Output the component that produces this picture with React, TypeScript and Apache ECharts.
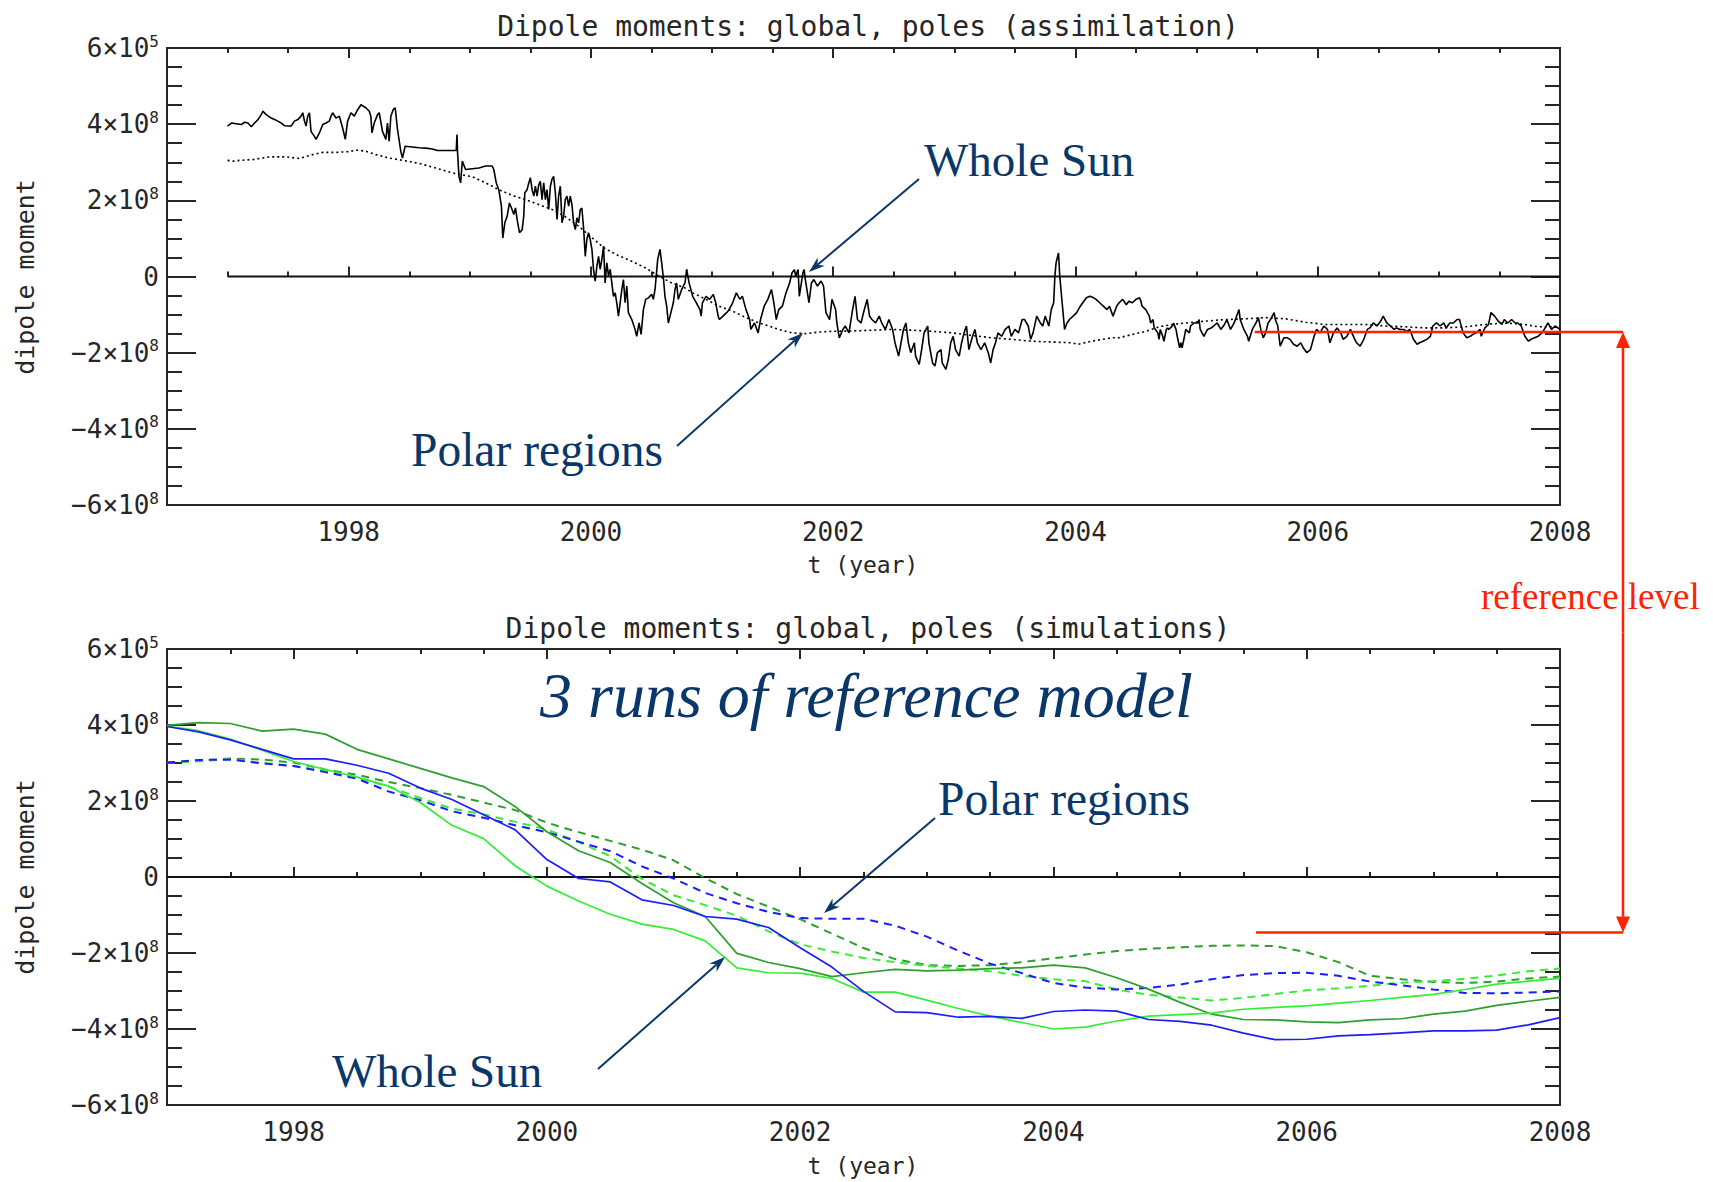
import React, { useEffect, useRef } from 'react';
import * as echarts from 'echarts';

const W = 1713;
const H = 1182;

// ---------- data (dipole moment in units of 1e8) ----------
const assimWholeSun: [number, number][] = [
  [1997.0, 3.95], [1997.031, 4.03], [1997.072, 4.01], [1997.113, 3.99], [1997.141, 4.05], [1997.168, 4.03], [1997.196, 3.93], [1997.223, 4.03], [1997.251, 4.12], [1997.278, 4.25], [1997.292, 4.34], [1997.319, 4.25], [1997.36, 4.16], [1997.388, 4.12], [1997.415, 4.08], [1997.443, 4.03], [1997.47, 3.96], [1997.497, 3.95], [1997.525, 3.95], [1997.552, 4.08], [1997.58, 4.12], [1997.607, 4.21], [1997.621, 4.3], [1997.635, 4.08], [1997.648, 3.95], [1997.662, 4.21], [1997.676, 4.3], [1997.689, 3.81], [1997.717, 3.68], [1997.731, 3.6], [1997.758, 3.77], [1997.786, 3.99], [1997.813, 4.03], [1997.84, 4.08], [1997.854, 4.21], [1997.868, 4.3], [1997.895, 4.16], [1997.923, 4.21], [1997.95, 3.9], [1997.972, 3.6], [1997.991, 4.08], [1998.019, 4.3], [1998.046, 4.21], [1998.074, 4.38], [1998.101, 4.51], [1998.142, 4.43], [1998.17, 4.34], [1998.183, 4.21], [1998.192, 3.77], [1998.211, 4.03], [1998.238, 4.25], [1998.252, 4.3], [1998.279, 3.81], [1998.307, 3.6], [1998.32, 4.03], [1998.334, 3.55], [1998.348, 4.21], [1998.367, 4.38], [1998.384, 4.43], [1998.403, 3.86], [1998.43, 3.29], [1998.444, 3.11], [1998.466, 3.42], [1998.526, 3.4], [1998.581, 3.38], [1998.636, 3.37], [1998.691, 3.35], [1998.732, 3.31], [1998.801, 3.31], [1998.888, 3.31], [1998.894, 3.73], [1998.899, 3.25], [1998.91, 2.63], [1998.924, 2.46], [1998.938, 3.03], [1998.965, 2.81], [1999.02, 2.83], [1999.075, 2.85], [1999.13, 2.9], [1999.185, 2.9], [1999.198, 2.81], [1999.218, 2.46], [1999.239, 2.28], [1999.261, 1.85], [1999.272, 1.01], [1999.289, 1.41], [1999.308, 1.58], [1999.327, 1.93], [1999.344, 1.8], [1999.363, 1.63], [1999.377, 1.8], [1999.393, 1.45], [1999.41, 1.15], [1999.432, 1.23], [1999.445, 1.58], [1999.454, 2.2], [1999.473, 2.28], [1999.487, 2.46], [1999.5, 2.59], [1999.514, 2.28], [1999.528, 2.11], [1999.541, 2.37], [1999.555, 2.11], [1999.569, 2.41], [1999.582, 2.5], [1999.596, 2.02], [1999.61, 2.46], [1999.624, 2.02], [1999.637, 2.28], [1999.651, 1.76], [1999.665, 2.37], [1999.678, 2.55], [1999.692, 2.63], [1999.706, 2.2], [1999.72, 1.5], [1999.733, 2.11], [1999.747, 2.37], [1999.761, 1.41], [1999.774, 1.58], [1999.788, 2.02], [1999.802, 2.11], [1999.816, 1.85], [1999.829, 2.11], [1999.843, 1.89], [1999.857, 1.41], [1999.871, 1.23], [1999.884, 1.54], [1999.898, 1.41], [1999.912, 1.76], [1999.925, 1.8], [1999.939, 1.28], [1999.953, 0.53], [1999.966, 0.97], [1999.98, 1.15], [1999.994, 0.97], [2000.008, 0.71], [2000.021, 0.19], [2000.035, -0.12], [2000.049, 0.27], [2000.063, 0.53], [2000.076, 0.19], [2000.09, 0.45], [2000.104, 0.8], [2000.117, -0.17], [2000.131, 0.36], [2000.145, 0.01], [2000.159, 0.19], [2000.172, -0.17], [2000.186, -0.52], [2000.2, -0.43], [2000.213, -0.69], [2000.227, -1.04], [2000.241, -0.69], [2000.255, -0.34], [2000.268, -0.08], [2000.282, -0.69], [2000.296, -0.25], [2000.309, -0.95], [2000.337, -1.13], [2000.364, -1.39], [2000.378, -1.57], [2000.397, -1.22], [2000.414, -1.52], [2000.433, -0.87], [2000.452, -0.6], [2000.474, -0.56], [2000.502, -0.47], [2000.515, -0.6], [2000.529, -0.34], [2000.551, 0.45], [2000.57, 0.71], [2000.584, 0.36], [2000.598, -0.04], [2000.611, -0.52], [2000.625, -0.78], [2000.639, -1.22], [2000.653, -1.04], [2000.666, -0.87], [2000.68, -0.69], [2000.694, -0.34], [2000.707, -0.17], [2000.721, -0.6], [2000.749, -0.34], [2000.776, -0.17], [2000.79, 0.19],
  [2000.81, -0.17], [2000.84, -0.52], [2000.87, -0.69], [2000.9, -0.87], [2000.91, -1.04], [2000.92, -0.69], [2000.95, -0.52], [2000.98, -0.6], [2001.01, -0.47], [2001.03, -0.69], [2001.05, -1.04], [2001.06, -1.13], [2001.09, -1.04], [2001.12, -0.95], [2001.14, -0.87], [2001.17, -0.69], [2001.2, -0.43], [2001.23, -0.6], [2001.25, -0.52], [2001.28, -0.87], [2001.31, -1.13], [2001.32, -1.39], [2001.35, -1.22], [2001.38, -1.48], [2001.4, -1.13], [2001.43, -0.78], [2001.46, -0.6], [2001.49, -0.34], [2001.51, -0.69], [2001.53, -1.13], [2001.55, -0.87], [2001.58, -0.78], [2001.61, -0.43], [2001.64, -0.17], [2001.66, 0.1], [2001.68, 0.18], [2001.69, 0.01], [2001.71, 0.18], [2001.72, -0.52], [2001.75, 0.1], [2001.76, 0.18], [2001.77, -0.08], [2001.8, -0.69], [2001.82, -0.17], [2001.84, -0.08], [2001.87, -0.25], [2001.9, -0.12], [2001.92, -0.25], [2001.94, -0.95], [2001.97, -1.13], [2001.99, -0.6], [2002.02, -0.87], [2002.03, -1.22], [2002.05, -1.61], [2002.08, -1.39], [2002.1, -1.3], [2002.13, -1.48], [2002.16, -0.87], [2002.18, -0.52], [2002.2, -1.13], [2002.23, -1.22], [2002.25, -0.95], [2002.28, -0.6], [2002.3, -1.04], [2002.32, -1.13], [2002.35, -1.22], [2002.38, -1.04], [2002.4, -1.22], [2002.43, -1.39], [2002.46, -1.13], [2002.49, -1.39], [2002.51, -1.74], [2002.54, -2.09], [2002.56, -1.74], [2002.58, -1.39], [2002.6, -1.22], [2002.62, -1.74], [2002.64, -2.0], [2002.67, -1.74], [2002.68, -2.09], [2002.71, -2.31], [2002.73, -1.92], [2002.75, -1.48], [2002.78, -1.3], [2002.79, -1.74], [2002.82, -2.27], [2002.84, -2.35], [2002.86, -2.0], [2002.89, -1.92], [2002.9, -2.27], [2002.93, -2.44], [2002.95, -2.18], [2002.97, -1.74], [2002.99, -1.57], [2003.01, -1.92], [2003.04, -2.09], [2003.06, -1.74], [2003.08, -1.48], [2003.1, -1.3], [2003.12, -1.92], [2003.15, -1.57], [2003.17, -1.39], [2003.19, -1.74], [2003.22, -1.92], [2003.25, -1.74], [2003.28, -2.0], [2003.3, -2.27], [2003.32, -1.92], [2003.34, -1.74], [2003.36, -1.48], [2003.39, -1.57], [2003.42, -1.39], [2003.45, -1.3], [2003.47, -1.57], [2003.5, -1.39], [2003.53, -1.48], [2003.56, -1.13], [2003.58, -1.13], [2003.61, -1.3], [2003.63, -1.65], [2003.65, -1.48], [2003.68, -1.04], [2003.71, -1.22], [2003.73, -1.3], [2003.75, -1.04], [2003.78, -1.3], [2003.8, -0.87], [2003.82, -0.69], [2003.83, 0.01], [2003.84, 0.36], [2003.86, 0.62], [2003.87, 0.01], [2003.89, -0.69], [2003.91, -1.39], [2003.93, -1.22], [2003.95, -1.13], [2003.98, -1.04], [2004.01, -0.95], [2004.04, -0.78], [2004.06, -0.69], [2004.09, -0.56], [2004.12, -0.52], [2004.15, -0.56], [2004.17, -0.6], [2004.2, -0.69], [2004.23, -0.78], [2004.26, -0.87], [2004.28, -0.78], [2004.31, -1.04], [2004.34, -0.78],
  [2004.36, -0.69], [2004.39, -0.6], [2004.42, -0.74], [2004.44, -0.65], [2004.47, -0.69], [2004.5, -0.6], [2004.53, -0.56], [2004.54, -0.65], [2004.55, -0.78], [2004.58, -0.87], [2004.61, -1.04], [2004.62, -1.22], [2004.64, -1.13], [2004.65, -1.35], [2004.66, -1.39], [2004.68, -1.48], [2004.69, -1.65], [2004.7, -1.39], [2004.72, -1.57], [2004.73, -1.7], [2004.75, -1.39], [2004.76, -1.35], [2004.77, -1.39], [2004.8, -1.3], [2004.81, -1.22], [2004.83, -1.39], [2004.84, -1.57], [2004.86, -1.87], [2004.87, -1.74], [2004.88, -1.87], [2004.9, -1.57], [2004.91, -1.39], [2004.94, -1.48], [2004.95, -1.3], [2004.98, -1.22], [2005.01, -1.22], [2005.02, -1.13], [2005.03, -1.39], [2005.06, -1.57], [2005.09, -1.39], [2005.12, -1.35], [2005.14, -1.3], [2005.17, -1.22], [2005.2, -1.39], [2005.23, -1.26], [2005.25, -1.13], [2005.28, -1.39], [2005.31, -1.22], [2005.34, -0.95], [2005.35, -0.87], [2005.36, -1.13], [2005.39, -1.39], [2005.42, -1.57], [2005.43, -1.7], [2005.46, -1.39], [2005.49, -1.22], [2005.51, -1.08], [2005.53, -1.39], [2005.55, -1.61], [2005.57, -1.48], [2005.59, -1.22], [2005.61, -1.13], [2005.64, -0.95], [2005.65, -1.13], [2005.67, -1.3], [2005.69, -1.83], [2005.72, -1.61], [2005.75, -1.61], [2005.77, -1.65], [2005.8, -1.78], [2005.83, -1.83], [2005.86, -1.74], [2005.88, -1.87], [2005.91, -2.0], [2005.94, -1.92], [2005.97, -1.57], [2005.99, -1.39], [2006.02, -1.48], [2006.05, -1.3], [2006.08, -1.39], [2006.1, -1.74], [2006.13, -1.48], [2006.16, -1.35], [2006.19, -1.48], [2006.21, -1.65], [2006.24, -1.57], [2006.27, -1.39], [2006.3, -1.61], [2006.32, -1.74], [2006.35, -1.83], [2006.38, -1.65], [2006.41, -1.39], [2006.43, -1.35], [2006.46, -1.22], [2006.49, -1.3], [2006.52, -1.17], [2006.54, -1.04], [2006.57, -1.22], [2006.6, -1.3], [2006.63, -1.39], [2006.65, -1.35], [2006.68, -1.39], [2006.71, -1.39], [2006.73, -1.44], [2006.76, -1.39], [2006.79, -1.65], [2006.82, -1.78], [2006.84, -1.74], [2006.87, -1.7], [2006.9, -1.65], [2006.93, -1.57], [2006.95, -1.3], [2006.98, -1.22], [2007.01, -1.3], [2007.04, -1.22], [2007.06, -1.35], [2007.09, -1.22], [2007.12, -1.22], [2007.15, -1.13], [2007.17, -1.13], [2007.2, -1.48], [2007.23, -1.61], [2007.26, -1.57], [2007.28, -1.52], [2007.31, -1.48], [2007.34, -1.39], [2007.35, -1.57], [2007.38, -1.35], [2007.41, -1.26], [2007.43, -0.95], [2007.46, -1.04], [2007.49, -1.17], [2007.52, -1.26], [2007.54, -1.13], [2007.57, -1.22], [2007.6, -1.13], [2007.63, -1.22], [2007.65, -1.22], [2007.68, -1.3], [2007.71, -1.57], [2007.74, -1.7], [2007.76, -1.65], [2007.79, -1.61], [2007.82, -1.57], [2007.85, -1.48], [2007.87, -1.39], [2007.9, -1.22], [2007.93, -1.39], [2007.96, -1.3], [2008.0, -1.39],
];

const assimPolar: [number, number][] = [
  [1997.0, 3.05], [1997.045, 3.03], [1997.1, 3.05], [1997.209, 3.07], [1997.347, 3.14], [1997.484, 3.14], [1997.593, 3.1], [1997.703, 3.2], [1997.786, 3.26], [1997.895, 3.26], [1998.005, 3.28], [1998.06, 3.32], [1998.142, 3.29], [1998.224, 3.2], [1998.334, 3.11], [1998.444, 3.05], [1998.581, 2.97], [1998.718, 2.85], [1998.855, 2.72], [1999.02, 2.62], [1999.13, 2.46], [1999.239, 2.28], [1999.349, 2.13], [1999.459, 2.02], [1999.569, 1.89], [1999.678, 1.76], [1999.788, 1.57], [1999.898, 1.32], [2000.008, 1.02], [2000.117, 0.73], [2000.227, 0.55], [2000.337, 0.4], [2000.447, 0.23], [2000.556, 0.02], [2000.666, -0.17], [2000.776, -0.3],
  [2000.84, -0.43], [2000.95, -0.6], [2001.06, -0.78], [2001.17, -0.91], [2001.28, -1.08], [2001.39, -1.22], [2001.47, -1.3], [2001.55, -1.39], [2001.66, -1.48], [2001.77, -1.5], [2001.88, -1.46], [2001.99, -1.44], [2002.16, -1.43], [2002.32, -1.41], [2002.49, -1.39], [2002.65, -1.41], [2002.82, -1.44], [2002.98, -1.48], [2003.15, -1.55], [2003.31, -1.61], [2003.47, -1.65], [2003.64, -1.7], [2003.8, -1.72], [2003.97, -1.74], [2004.02, -1.78], [2004.13, -1.7], [2004.3, -1.61],
  [2004.36, -1.61], [2004.47, -1.52], [2004.58, -1.44], [2004.69, -1.32], [2004.8, -1.26], [2004.91, -1.22], [2005.08, -1.17], [2005.24, -1.13], [2005.4, -1.11], [2005.57, -1.08], [2005.73, -1.11], [2005.9, -1.2], [2006.06, -1.26], [2006.23, -1.26], [2006.39, -1.26], [2006.56, -1.3], [2006.72, -1.32], [2006.89, -1.35], [2007.05, -1.35], [2007.22, -1.32], [2007.38, -1.26], [2007.54, -1.22], [2007.71, -1.26], [2007.82, -1.32], [2008.0, -1.32],
];

const zeroLine: [number, number][] = [[1997, 0], [2008, 0]];

const simYears = [
  1997.0, 1997.25, 1997.5, 1997.75, 1998.0, 1998.25, 1998.5, 1998.75, 1999.0, 1999.25, 1999.5, 1999.75, 2000.0, 2000.25, 2000.5,
  2000.75, 2001.0, 2001.25, 2001.5, 2001.75, 2002.0, 2002.25, 2002.5, 2002.75, 2003.0, 2003.25, 2003.5, 2003.75, 2004.0, 2004.25,
  2004.5, 2004.75, 2005.0, 2005.25, 2005.5, 2005.75, 2006.0, 2006.25, 2006.5, 2006.75, 2007.0, 2007.25, 2007.5, 2007.75, 2008.0,
];
const run1WholeBlue = [
  3.96, 3.82, 3.61, 3.36, 3.11, 3.11, 2.94, 2.73, 2.34, 2.04, 1.64, 1.24, 0.46, -0.04, -0.13,
  -0.6, -0.75, -1.04, -1.11, -1.33, -1.86, -2.37, -3.01, -3.55, -3.57, -3.69, -3.67, -3.72, -3.54, -3.5,
  -3.53, -3.75, -3.8, -3.9, -4.11, -4.28, -4.27, -4.18, -4.15, -4.1, -4.05, -4.05, -4.03, -3.89, -3.7,
];
const run2WholeDarkGreen = [
  3.99, 4.06, 4.04, 3.84, 3.89, 3.76, 3.36, 3.11, 2.86, 2.61, 2.38, 1.85, 1.19, 0.69, 0.38,
  -0.17, -0.68, -1.04, -2.01, -2.25, -2.41, -2.62, -2.52, -2.43, -2.47, -2.45, -2.41, -2.39, -2.32, -2.39,
  -2.65, -2.95, -3.3, -3.61, -3.75, -3.76, -3.81, -3.83, -3.76, -3.73, -3.61, -3.53, -3.38, -3.27, -3.17,
];
const run3WholeLightGreen = [
  3.97, 3.85, 3.63, 3.34, 3.04, 2.83, 2.63, 2.39, 1.96, 1.36, 1.01, 0.29, -0.24, -0.63, -0.98,
  -1.24, -1.38, -1.68, -2.39, -2.52, -2.53, -2.67, -3.03, -3.03, -3.24, -3.46, -3.66, -3.83, -4.0, -3.95,
  -3.79, -3.66, -3.62, -3.58, -3.48, -3.43, -3.39, -3.32, -3.25, -3.17, -3.09, -2.96, -2.82, -2.74, -2.67,
];
const run1PolarBlue = [
  3.01, 3.08, 3.09, 2.99, 2.92, 2.76, 2.59, 2.25, 2.02, 1.73, 1.56, 1.36, 1.18, 0.93, 0.68,
  0.28, -0.04, -0.42, -0.69, -0.92, -1.08, -1.1, -1.1, -1.28, -1.57, -1.94, -2.28, -2.53, -2.79, -2.91,
  -2.96, -2.92, -2.83, -2.69, -2.58, -2.53, -2.52, -2.6, -2.75, -2.85, -2.96, -3.05, -3.06, -3.04, -3.01,
];
const run2PolarDarkGreen = [
  3.01, 3.06, 3.12, 3.09, 3.01, 2.83, 2.69, 2.5, 2.34, 2.16, 1.96, 1.76, 1.43, 1.18, 0.95,
  0.72, 0.44, -0.03, -0.45, -0.78, -1.11, -1.49, -1.87, -2.16, -2.32, -2.34, -2.32, -2.24, -2.14, -2.04,
  -1.95, -1.89, -1.85, -1.81, -1.8, -1.82, -1.98, -2.24, -2.6, -2.69, -2.76, -2.79, -2.75, -2.67, -2.62,
];
const run3PolarLightGreen = [
  3.01, 3.04, 3.11, 3.0, 2.92, 2.79, 2.62, 2.38, 2.08, 1.8, 1.65, 1.45, 1.25, 0.92, 0.55,
  -0.05, -0.48, -0.74, -1.02, -1.43, -1.77, -1.96, -2.13, -2.24, -2.34, -2.41, -2.48, -2.6, -2.69, -2.74,
  -2.96, -3.1, -3.17, -3.25, -3.18, -3.08, -2.98, -2.93, -2.86, -2.78, -2.74, -2.68, -2.59, -2.48, -2.41,
];

const majorYears = [1998, 2000, 2002, 2004, 2006, 2008];
const topMinorYears = [1997, 1997.5, 1998.5, 1999, 1999.5, 2000.5, 2001, 2001.5, 2002.5, 2003, 2003.5, 2004.5, 2005, 2005.5, 2006.5, 2007, 2007.5];
const bottomMinorYears = [1997.5, 1998.5, 1999, 1999.5, 2000.5, 2001, 2001.5, 2002.5, 2003, 2003.5, 2004.5, 2005, 2005.5, 2006.5, 2007, 2007.5];
const refLevel = -1.46;
const refStartTop = 2005.48;
const refStartBottom = 2005.6;

// ---------- styling ----------
const MONO = '"DejaVu Sans Mono", monospace';
const SERIF = '"Liberation Serif", "Times New Roman", serif';
const INK = '#262626';
const NAVY = '#0a3769';
const RED = '#ff2200';
const BLUE = '#1c1cff';
const DGREEN = '#2e9e2e';
const LGREEN = '#33ee33';

function yLabel(v: number): string {
  if (v === 0) return '{b|0}';
  const sign = v < 0 ? '−' : '';
  const exp = v === 6 ? '5' : '8';
  return `{b|${sign}${Math.abs(v)}×10}{s|${exp}}`;
}

function xAxesFor(gridIndex: number, min: number, minors: number[]) {
  const base: any = {
    type: 'value', gridIndex, min, max: 2008,
    axisLine: { show: false }, splitLine: { show: false },
  };
  const tick = (vals: number[], len: number) => ({
    show: true, inside: true, length: len, customValues: vals,
    lineStyle: { color: INK, width: 2 },
  });
  return [
    {
      ...base, position: 'bottom', axisTick: tick(majorYears, 10),
      axisLabel: {
        show: true, customValues: majorYears, margin: 14, formatter: (v: number) => String(v),
        fontFamily: MONO, fontSize: 26, color: INK, showMinLabel: true, showMaxLabel: true,
      },
    },
    { ...base, position: 'bottom', axisTick: tick(minors, 5), axisLabel: { show: false } },
    { ...base, position: 'top', axisTick: tick(majorYears, 10), axisLabel: { show: false } },
    { ...base, position: 'top', axisTick: tick(minors, 5), axisLabel: { show: false } },
  ];
}

function yAxesFor(gridIndex: number) {
  const common: any = {
    type: 'value', gridIndex, min: -6, max: 6, interval: 2,
    axisLine: { show: false }, splitLine: { show: false },
    axisTick: { show: true, inside: true, length: 29, lineStyle: { color: INK, width: 2 } },
    minorTick: { show: true, splitNumber: 4, length: 15, lineStyle: { color: INK, width: 2 } },
  };
  return [
    {
      ...common, position: 'left',
      axisLabel: {
        show: true, margin: 8, formatter: yLabel,
        rich: {
          b: { fontFamily: MONO, fontSize: 26, color: INK, lineHeight: 30 },
          s: { fontFamily: MONO, fontSize: 16, color: INK, verticalAlign: 'top', lineHeight: 30 },
        },
      },
    },
    { ...common, position: 'right', axisLabel: { show: false } },
  ];
}

function zip(xs: number[], ys: number[]): [number, number][] {
  return xs.map((x, i) => [x, ys[i]]);
}

function lineSeries(name: string, data: [number, number][], xi: number, yi: number, color: string, type: any, width: number, z = 3) {
  return {
    type: 'line', name, data, xAxisIndex: xi, yAxisIndex: yi, showSymbol: false, symbol: 'none',
    lineStyle: { color, width, type }, z, silent: true,
  };
}

function buildOption(): any {
  const titleStyle = { fontFamily: MONO, fontSize: 28, fontWeight: 'normal', color: INK };
  return {
    animation: false,
    backgroundColor: '#ffffff',
    title: [
      { text: 'Dipole moments: global, poles (assimilation)', left: 863, top: 7, textAlign: 'center', textStyle: titleStyle },
      { text: 'Dipole moments: global, poles (simulations)', left: 863, top: 609, textAlign: 'center', textStyle: titleStyle },
    ],
    grid: [
      { left: 167, top: 48, width: 1393, height: 457, show: true, borderColor: INK, borderWidth: 2, backgroundColor: 'transparent', containLabel: false, outerBoundsMode: 'none' },
      { left: 167, top: 649, width: 1393, height: 456, show: true, borderColor: INK, borderWidth: 2, backgroundColor: 'transparent', containLabel: false, outerBoundsMode: 'none' },
    ],
    xAxis: [...xAxesFor(0, 1996.5, topMinorYears), ...xAxesFor(1, 1997, bottomMinorYears)],
    yAxis: [...yAxesFor(0), ...yAxesFor(1)],
    series: [
      lineSeries('zero (assimilation)', zeroLine, 0, 0, '#111', 'solid', 2, 2),
      lineSeries('Polar regions (assimilation)', assimPolar, 0, 0, '#000', [2, 3], 1.6),
      lineSeries('Whole Sun (assimilation)', assimWholeSun, 0, 0, '#000', 'solid', 1.6),
      lineSeries('zero (simulations)', zeroLine, 4, 2, '#111', 'solid', 2, 2),
      lineSeries('Polar run 2', zip(simYears, run2PolarDarkGreen), 4, 2, DGREEN, [8, 6], 2),
      lineSeries('Polar run 3', zip(simYears, run3PolarLightGreen), 4, 2, LGREEN, [8, 6], 2),
      lineSeries('Polar run 1', zip(simYears, run1PolarBlue), 4, 2, BLUE, [8, 6], 2),
      lineSeries('Whole Sun run 2', zip(simYears, run2WholeDarkGreen), 4, 2, DGREEN, 'solid', 1.7),
      lineSeries('Whole Sun run 3', zip(simYears, run3WholeLightGreen), 4, 2, LGREEN, 'solid', 1.7),
      lineSeries('Whole Sun run 1', zip(simYears, run1WholeBlue), 4, 2, BLUE, 'solid', 1.7),
    ],
  };
}

function arrowEls(x1: number, y1: number, x2: number, y2: number, color: string, lw: number, hl: number, hw: number, notch: number) {
  const dx = x2 - x1, dy = y2 - y1;
  const L = Math.hypot(dx, dy);
  const ux = dx / L, uy = dy / L;
  const bx = x2 - ux * hl, by = y2 - uy * hl;
  const nx = -uy * hw / 2, ny = ux * hw / 2;
  const ix = x2 - ux * hl * (1 - notch), iy = y2 - uy * hl * (1 - notch);
  return [
    { type: 'line', z: 100, silent: true, shape: { x1, y1, x2: ix, y2: iy }, style: { stroke: color, lineWidth: lw } },
    { type: 'polygon', z: 100, silent: true, shape: { points: [[x2, y2], [bx + nx, by + ny], [ix, iy], [bx - nx, by - ny]] }, style: { fill: color } },
  ];
}

function textEl(text: string, x: number, y: number, fontSize: number, fontFamily: string, fill: string, extra: any = {}) {
  return {
    type: 'text', x, y, z: 100, silent: true, rotation: extra.rotation || 0,
    style: {
      text, fill, fontSize, fontFamily, fontStyle: extra.fontStyle || 'normal',
      align: extra.align || 'left', verticalAlign: 'middle',
    },
  };
}

function buildGraphics(chart: any): any[] {
  const pTop = chart.convertToPixel({ xAxisIndex: 0, yAxisIndex: 0 }, [refStartTop, refLevel]);
  const pBot = chart.convertToPixel({ xAxisIndex: 4, yAxisIndex: 2 }, [refStartBottom, refLevel]);
  const ax = 1623;
  const els: any[] = [];
  // axis titles
  els.push(textEl('dipole moment', 25, 277, 25, MONO, INK, { rotation: Math.PI / 2, align: 'center' }));
  els.push(textEl('dipole moment', 25, 877, 25, MONO, INK, { rotation: Math.PI / 2, align: 'center' }));
  els.push(textEl('t (year)', 863, 565, 23, MONO, INK, { align: 'center' }));
  els.push(textEl('t (year)', 863, 1166, 23, MONO, INK, { align: 'center' }));
  // annotations
  els.push(textEl('Whole Sun', 924, 160, 47, SERIF, NAVY));
  els.push(textEl('Polar regions', 411, 450, 47.5, SERIF, NAVY));
  els.push(textEl('3 runs of reference model', 540, 695, 64, SERIF, NAVY, { fontStyle: 'italic' }));
  els.push(textEl('Polar regions', 938, 799, 47.5, SERIF, NAVY));
  els.push(textEl('Whole Sun', 332, 1071, 47, SERIF, NAVY));
  els.push(...arrowEls(919, 179, 809, 272, NAVY, 2, 16, 11, 0.3));
  els.push(...arrowEls(677, 446, 803, 333, NAVY, 2, 16, 11, 0.3));
  els.push(...arrowEls(935, 818, 824, 913, NAVY, 2, 16, 11, 0.3));
  els.push(...arrowEls(598, 1069, 725, 957, NAVY, 2, 16, 11, 0.3));
  // reference level
  els.push(textEl('reference level', 1481, 596, 37, SERIF, RED));
  els.push({ type: 'line', z: 101, silent: true, shape: { x1: pTop[0], y1: pTop[1], x2: ax, y2: pTop[1] }, style: { stroke: RED, lineWidth: 2.5 } });
  els.push({ type: 'line', z: 101, silent: true, shape: { x1: pBot[0], y1: pBot[1], x2: ax, y2: pBot[1] }, style: { stroke: RED, lineWidth: 2.5 } });
  els.push(...arrowEls(ax, (pTop[1] + pBot[1]) / 2, ax, pTop[1], RED, 2.5, 16, 14, 0));
  els.push(...arrowEls(ax, (pTop[1] + pBot[1]) / 2, ax, pBot[1], RED, 2.5, 16, 14, 0));
  return els;
}

export default function App() {
  const ref = useRef<HTMLDivElement>(null);
  useEffect(() => {
    document.body.style.margin = '0';
    const chart = echarts.init(ref.current as HTMLDivElement, undefined, { renderer: 'svg', width: W, height: H });
    chart.setOption(buildOption());
    chart.setOption({ graphic: buildGraphics(chart) });
    return () => {
      chart.dispose();
    };
  }, []);
  return <div ref={ref} style={{ width: W, height: H, background: '#fff' }} />;
}
